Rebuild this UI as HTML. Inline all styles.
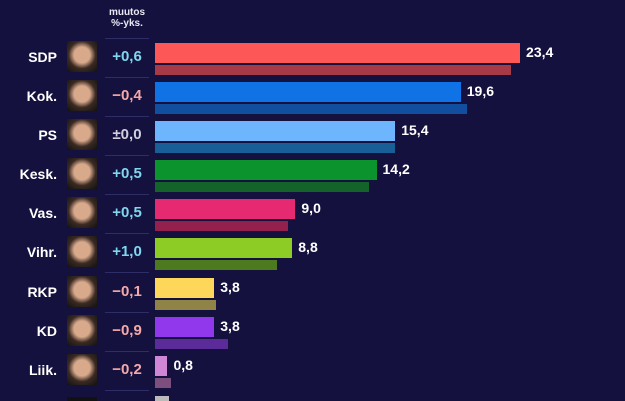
<!DOCTYPE html>
<html><head><meta charset="utf-8"><style>
html,body{margin:0;width:625px;height:401px;overflow:hidden}
body{background:#15113e;font-family:"Liberation Sans",sans-serif;color:#fff;position:relative}
.a{position:absolute}
.lab{right:568px;font-weight:bold;font-size:14px;width:60px;text-align:right}
.ph{left:67px;width:30px;height:31px;background:radial-gradient(circle at 50% 45%,#d9a98c 0 35%,#3a2a22 60%,#111 100%)}
.ch{left:105px;width:44px;text-align:center;font-weight:bold;font-size:15px}
.sep{left:105px;width:44px;height:1px;background:#2e2d66}
.b{left:155px;height:20px}
.p{left:155px;height:10px}
.v{font-weight:bold;font-size:14px}
</style></head><body>
<div class="a" style="left:105px;top:7px;width:44px;text-align:center;font-size:10px;font-weight:bold;line-height:11px;color:#e8e8f4">muutos<br>%-yks.</div>
<div class="a sep" style="top:38px"></div>
<div id="c"></div>
<div class="a" style="left:155px;top:396px;width:14px;height:5px;background:#bbbbbb"></div>
<div class="a" style="left:67px;top:397px;width:30px;height:4px;background:#111"></div>
<script>
const d=[["SDP","+0,6","#7fd7ee",23.4,"#fe5757",22.8,"#a73a46"],
["Kok.","−0,4","#f4a9a9",19.6,"#0f73e6",20.0,"#124ea0"],
["PS","±0,0","#d0d0de",15.4,"#6db5fd",15.4,"#185f97"],
["Kesk.","+0,5","#7fd7ee",14.2,"#0b942d",13.7,"#14632b"],
["Vas.","+0,5","#7fd7ee",9.0,"#e52a71",8.5,"#94204e"],
["Vihr.","+1,0","#7fd7ee",8.8,"#8ccc25",7.8,"#4d7a1e"],
["RKP","−0,1","#f4a9a9",3.8,"#fdd75a",3.9,"#8f8347"],
["KD","−0,9","#f4a9a9",3.8,"#9238ec",4.7,"#5a2b99"],
["Liik.","−0,2","#f4a9a9",0.8,"#cf86d6",1.0,"#7c4f7f"]];
let h="",s=15.6;
d.forEach((r,i)=>{let t=43+i*39;if(i>=6)t+=1;
h+=`<div class="a lab" style="top:${t+6}px">${r[0]}</div>`;
h+=`<div class="a ph" style="top:${t-2}px"></div>`;
h+=`<div class="a ch" style="top:${t+5}px;color:${r[2]}">${r[1]}</div>`;
h+=`<div class="a sep" style="top:${t+34}px"></div>`;
h+=`<div class="a b" style="top:${t}px;width:${r[3]*s}px;background:${r[4]}"></div>`;
h+=`<div class="a p" style="top:${t+22}px;width:${r[5]*s}px;background:${r[6]}"></div>`;
h+=`<div class="a v" style="top:${t+1}px;left:${155+r[3]*s+6}px">${r[3].toFixed(1).replace('.',',')}</div>`;});
document.getElementById('c').innerHTML=h;
</script>
</body></html>
